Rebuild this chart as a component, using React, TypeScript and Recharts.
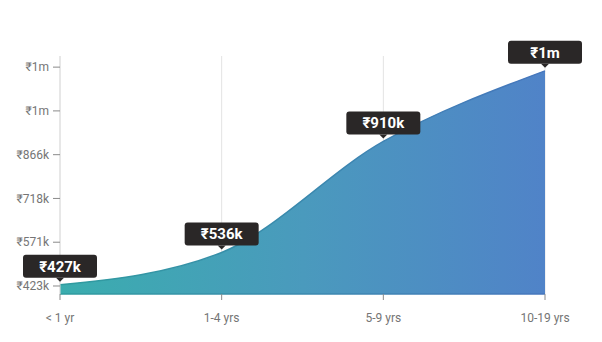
import { AreaChart, Area, XAxis, YAxis, CartesianGrid, LabelList } from "recharts";

const categories = ["< 1 yr", "1-4 yrs", "5-9 yrs", "10-19 yrs"];
const salaries = [427000, 536000, 910000, 1148000];
const yTicks = [423000, 570500, 718000, 865500, 1013000, 1160500];

const chartData = categories.map((name, i) => ({ name, salary: salaries[i] }));

function formatRupee(v: number) {
  if (v >= 1000000) return "₹" + Math.round(v / 1000000) + "m";
  return "₹" + Math.round(v / 1000) + "k";
}

function PriceTag(props: any) {
  const { x, y, value } = props;
  const w = 74;
  const h = 23;
  const bottom = y - 7;
  return (
    <g>
      <rect x={x - w / 2} y={bottom - h} width={w} height={h} rx={3} fill="#2a2727" />
      <path d={`M${x - 4},${bottom} L${x + 4},${bottom} L${x},${bottom + 4} Z`} fill="#2a2727" />
      <text
        x={x}
        y={bottom - h / 2 + 5.5}
        textAnchor="middle"
        fill="#ffffff"
        fontSize={15}
        fontWeight={700}
        fontFamily="Roboto, sans-serif"
      >
        {formatRupee(value)}
      </text>
    </g>
  );
}

export default function App() {
  return (
    <div style={{ position: "absolute", left: 0, top: 0, width: 602, height: 342, background: "#fff" }}>
      <AreaChart
        width={602}
        height={342}
        data={chartData}
        margin={{ top: 56, right: 57, left: 0, bottom: 0 }}
      >
        <defs>
          <linearGradient id="fillGrad" x1="0" y1="0" x2="1" y2="0">
            <stop offset="0%" stopColor="#3aadae" />
            <stop offset="50%" stopColor="#4a9abd" />
            <stop offset="100%" stopColor="#5083c8" />
          </linearGradient>
          <linearGradient id="lineGrad" x1="0" y1="0" x2="1" y2="0">
            <stop offset="0%" stopColor="#2f9c9f" />
            <stop offset="100%" stopColor="#4676bd" />
          </linearGradient>
          <linearGradient id="axisGrad" gradientUnits="userSpaceOnUse" x1="60" y1="0" x2="545" y2="0">
            <stop offset="0%" stopColor="#2f9c9f" />
            <stop offset="100%" stopColor="#4676bd" />
          </linearGradient>
        </defs>
        <CartesianGrid horizontal={false} stroke="#e3e3e3" />
        <XAxis
          dataKey="name"
          height={48}
          tickSize={6}
          tickMargin={13}
          axisLine={{ stroke: "url(#axisGrad)", strokeWidth: 1.5 }}
          tickLine={{ stroke: "#8a8a8a" }}
          tick={{ fontSize: 12, fill: "#757575", fontFamily: "Roboto, sans-serif" }}
        />
        <YAxis
          width={60}
          domain={[396000, 1198000]}
          ticks={yTicks}
          tickFormatter={formatRupee}
          tickSize={7}
          tickMargin={4}
          axisLine={{ stroke: "#dddddd" }}
          tickLine={{ stroke: "#8a8a8a" }}
          tick={{ fontSize: 12, fill: "#757575", fontFamily: "Roboto, sans-serif" }}
        />
        <Area
          type="monotone"
          dataKey="salary"
          stroke="url(#lineGrad)"
          strokeWidth={1.5}
          fill="url(#fillGrad)"
          fillOpacity={1}
          isAnimationActive={false}
          dot={false}
          activeDot={false}
        >
          <LabelList dataKey="salary" content={PriceTag} />
        </Area>
      </AreaChart>
    </div>
  );
}
